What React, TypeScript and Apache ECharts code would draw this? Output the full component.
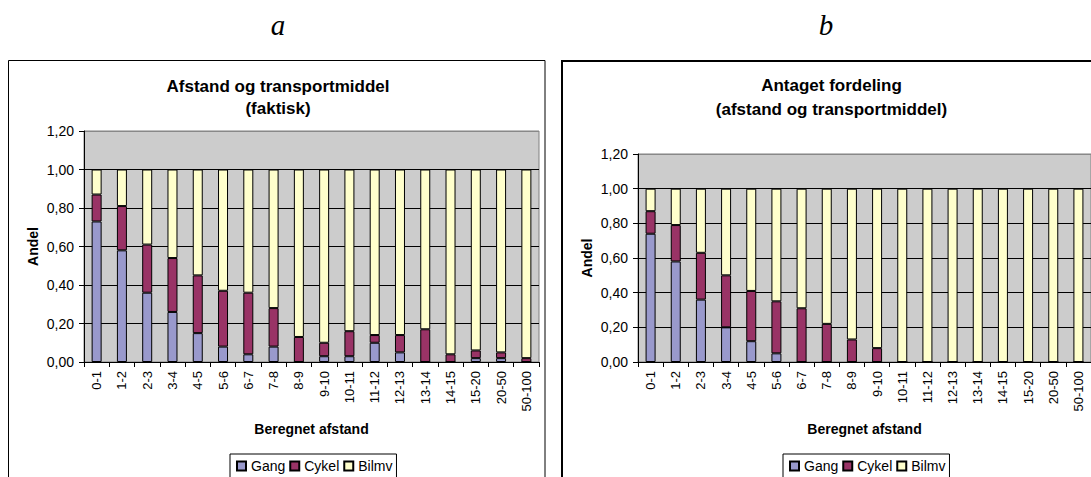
import React, { useEffect, useRef } from "react";
import * as echarts from "echarts";

const categories = [
  "0-1", "1-2", "2-3", "3-4", "4-5", "5-6", "6-7", "7-8", "8-9", "9-10",
  "10-11", "11-12", "12-13", "13-14", "14-15", "15-20", "20-50", "50-100",
];
const seriesNames = ["Gang", "Cykel", "Bilmv"];

// Chart a: Afstand og transportmiddel (faktisk)
const gangA = [0.73, 0.58, 0.36, 0.26, 0.15, 0.08, 0.04, 0.08, 0, 0.03, 0.03, 0.1, 0.05, 0, 0, 0.02, 0.02, 0];
const cykelA = [0.14, 0.23, 0.25, 0.28, 0.3, 0.29, 0.32, 0.2, 0.13, 0.07, 0.13, 0.04, 0.09, 0.17, 0.04, 0.04, 0.03, 0.02];
const bilmvA = [0.13, 0.19, 0.39, 0.46, 0.55, 0.63, 0.64, 0.72, 0.87, 0.9, 0.84, 0.86, 0.86, 0.83, 0.96, 0.94, 0.95, 0.98];

// Chart b: Antaget fordeling (afstand og transportmiddel)
const gangB = [0.74, 0.58, 0.36, 0.2, 0.12, 0.05, 0, 0, 0, 0, 0, 0, 0, 0, 0, 0, 0, 0];
const cykelB = [0.13, 0.21, 0.27, 0.3, 0.29, 0.3, 0.31, 0.22, 0.13, 0.08, 0, 0, 0, 0, 0, 0, 0, 0];
const bilmvB = [0.13, 0.21, 0.37, 0.5, 0.59, 0.65, 0.69, 0.78, 0.87, 0.92, 1, 1, 1, 1, 1, 1, 1, 1];

const titleA = "Afstand og transportmiddel\n(faktisk)";
const titleB = "Antaget fordeling\n(afstand og transportmiddel)";
const yName = "Andel";
const xName = "Beregnet afstand";

const FONT = '"Liberation Sans", Arial, Helvetica, sans-serif';
const COLORS = ["#9999CC", "#993366", "#FFFFCC"];

function buildOption() {
  const mkX = (gridIndex: number) => ({
    type: "category",
    gridIndex,
    data: categories,
    axisLine: { show: true, lineStyle: { color: "#000", width: 1 } },
    axisTick: { show: true, interval: 0, length: 5, lineStyle: { color: "#000" } },
    axisLabel: { interval: 0, rotate: 90, margin: 9, fontSize: 13, color: "#000", fontFamily: FONT },
    splitLine: { show: false },
  });
  const mkY = (gridIndex: number) => ({
    type: "value",
    gridIndex,
    min: 0,
    max: 1.2,
    interval: 0.2,
    axisLine: { show: true, lineStyle: { color: "#000" } },
    axisTick: { show: true, length: 5, lineStyle: { color: "#000" } },
    axisLabel: {
      formatter: (v: number) => v.toFixed(2).replace(".", ","),
      fontSize: 14,
      color: "#000",
      margin: 10,
      fontFamily: FONT,
    },
    splitLine: {
      show: true,
      lineStyle: { color: ["#000", "#000", "#000", "#000", "#000", "#000", "#888"], width: 1 },
    },
  });
  const mkSeries = (idx: number, stack: string, data: number[][]) =>
    data.map((d, i) => ({
      name: seriesNames[i],
      type: "bar",
      stack,
      xAxisIndex: idx,
      yAxisIndex: idx,
      data: d,
      barWidth: 10,
      itemStyle: { color: COLORS[i], borderColor: "#000", borderWidth: 1 },
    }));
  const mkLegend = (left: number) => ({
    left,
    top: 454,
    orient: "horizontal",
    data: seriesNames,
    icon: "rect",
    itemWidth: 9,
    itemHeight: 9,
    itemGap: 4,
    padding: [5, 4, 8, 6],
    borderColor: "#000",
    borderWidth: 1,
    backgroundColor: "#fff",
    textStyle: { fontSize: 14, color: "#000", fontFamily: FONT },
  });
  const gridBase = {
    show: true,
    backgroundColor: "#CCCCCC",
    borderColor: "#808080",
    borderWidth: 1,
    containLabel: false,
    outerBoundsMode: "none",
  };
  const txt = (x: number, y: number, text: string, extra: any = {}) => ({
    type: "text",
    x,
    y,
    silent: true,
    ...extra,
    style: {
      text,
      fill: "#000",
      align: "center",
      verticalAlign: "middle",
      fontFamily: FONT,
      fontSize: 14,
      fontWeight: "bold",
      ...(extra.style || {}),
    },
  });

  return {
    animation: false,
    backgroundColor: "#fff",
    grid: [
      { ...gridBase, left: 84, top: 131, width: 455, height: 231 },
      { ...gridBase, left: 638, top: 154, width: 453, height: 208 },
    ],
    xAxis: [mkX(0), mkX(1)],
    yAxis: [mkY(0), mkY(1)],
    legend: [mkLegend(230), mkLegend(783)],
    series: [
      ...mkSeries(0, "a", [gangA, cykelA, bilmvA]),
      ...mkSeries(1, "b", [gangB, cykelB, bilmvB]),
    ],
    graphic: [
      {
        type: "rect",
        silent: true,
        shape: { x: 8.5, y: 60.5, width: 536.5, height: 500 },
        style: { fill: "none", stroke: "#000", lineWidth: 1 },
      },
      {
        type: "rect",
        silent: true,
        shape: { x: 562, y: 61, width: 600, height: 500 },
        style: { fill: "none", stroke: "#000", lineWidth: 2 },
      },
      txt(278, 25, "a", {
        style: { fontFamily: '"Liberation Serif", "Times New Roman", serif', fontStyle: "italic", fontWeight: "normal", fontSize: 29 },
      }),
      txt(826, 25, "b", {
        style: { fontFamily: '"Liberation Serif", "Times New Roman", serif', fontStyle: "italic", fontWeight: "normal", fontSize: 29 },
      }),
      txt(278, 97, titleA, { style: { fontSize: 17, lineHeight: 22 } }),
      txt(831.5, 97, titleB, { style: { fontSize: 17, lineHeight: 24 } }),
      txt(33, 246.5, yName, { rotation: Math.PI / 2 }),
      txt(587, 258, yName, { rotation: Math.PI / 2 }),
      txt(311.5, 429, xName),
      txt(864.5, 429, xName),
    ],
  };
}

export default function App() {
  const ref = useRef<HTMLDivElement>(null);
  useEffect(() => {
    if (!ref.current) return;
    const chart = echarts.init(ref.current, null, { renderer: "svg" });
    chart.setOption(buildOption() as any);
    return () => chart.dispose();
  }, []);
  return (
    <div
      ref={ref}
      style={{ position: "fixed", left: 0, top: 0, width: 1091, height: 477, background: "#fff" }}
    />
  );
}
